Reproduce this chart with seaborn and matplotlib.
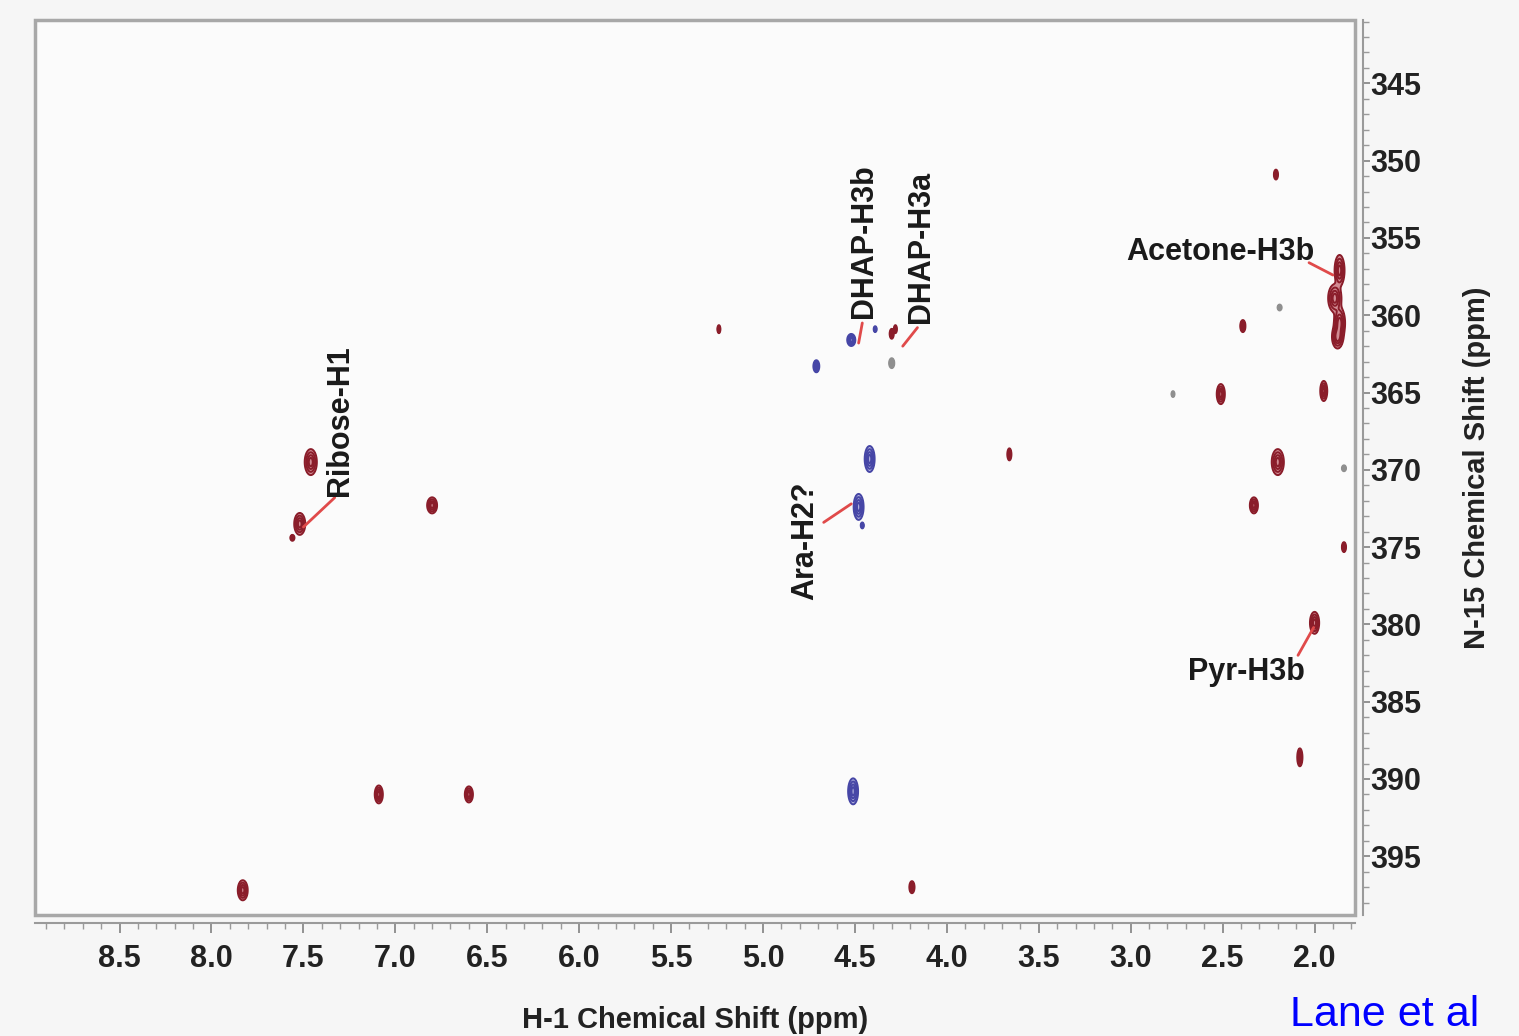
import numpy as np
import matplotlib
matplotlib.use("Agg")
import matplotlib.pyplot as plt
from matplotlib.patches import Rectangle
from matplotlib.ticker import MultipleLocator, FormatStrFormatter
import seaborn as sns

# ---- cross-peaks: 1H shift, 15N shift, half-widths (ppm) ----
pos_h = [7.83, 7.09, 6.60, 4.19, 2.08, 2.00, 1.84, 2.33, 2.20, 2.51, 1.95, 2.39,
         2.21, 1.864, 1.89, 1.864, 1.875, 3.66, 5.24, 7.46, 7.52, 7.56, 6.80,
         4.30, 4.28]
pos_n = [397.2, 391.0, 391.0, 397.0, 388.6, 379.9, 375.0, 372.3, 369.5, 365.1,
         364.9, 360.7, 350.9, 357.1, 358.9, 360.5, 361.4, 369.0, 360.9, 369.5,
         373.5, 374.4, 372.3, 361.2, 360.9]
pos_wh = [0.027, 0.022, 0.022, 0.014, 0.014, 0.025, 0.011, 0.022, 0.033, 0.022,
          0.019, 0.014, 0.011, 0.027, 0.036, 0.030, 0.030, 0.011, 0.008, 0.033,
          0.030, 0.011, 0.027, 0.011, 0.008]
pos_wn = [0.65, 0.58, 0.52, 0.39, 0.58, 0.71, 0.32, 0.52, 0.84, 0.65, 0.65, 0.39,
          0.32, 1.00, 0.90, 1.00, 0.75, 0.39, 0.26, 0.84, 0.71, 0.19, 0.52, 0.32,
          0.26]

neg_h = [4.51, 4.42, 4.48, 4.46, 4.71, 4.52, 4.39]
neg_n = [390.8, 369.3, 372.4, 373.6, 363.3, 361.6, 360.9]
neg_wh = [0.027, 0.027, 0.027, 0.008, 0.016, 0.022, 0.008]
neg_wn = [0.84, 0.84, 0.84, 0.19, 0.39, 0.39, 0.19]

weak_h = [2.19, 4.30, 1.84, 2.77]
weak_n = [359.5, 363.1, 369.9, 365.1]
weak_wh = [0.011, 0.014, 0.011, 0.008]
weak_wn = [0.19, 0.32, 0.19, 0.19]

# ---- assignments: label, label anchor (H, N), leader line start/end ----
labels = ["Ribose-H1", "DHAP-H3b", "DHAP-H3a", "Ara-H2?", "Acetone-H3b", "Pyr-H3b"]
label_h = [7.30, 4.45, 4.14, 4.77, 2.00, 2.37]
label_n = [371.7, 360.2, 360.5, 374.6, 355.9, 383.1]
label_rot = [90, 90, 90, 90, 0, 0]
label_ha = ["center", "center", "center", "center", "right", "center"]
label_va = ["bottom", "bottom", "bottom", "center", "center", "center"]
lead_h0 = [7.33, 4.46, 4.16, 4.67, 2.03, 2.09]
lead_n0 = [371.8, 360.5, 360.8, 373.4, 356.6, 382.0]
lead_h1 = [7.50, 4.48, 4.24, 4.52, 1.90, 2.005]
lead_n1 = [373.7, 361.8, 362.0, 372.2, 357.4, 380.2]

H_LIM = (8.96, 1.78)
N_LIM = (398.8, 340.9)

W, H = 1519, 1036
sns.set_theme(style="white")
plt.rcParams["font.family"] = ["Liberation Sans", "DejaVu Sans"]
plt.rcParams["font.weight"] = "bold"

fig = plt.figure(figsize=(W / 100, H / 100), dpi=100, facecolor="#f6f6f6")
ax = fig.add_axes([35 / W, 1 - 915 / H, 1320 / W, 895 / H])
ax.set_facecolor("#fbfbfb")

LEVELS = [0.12, 0.3, 0.55, 0.8]
K = np.sqrt(2 * np.log(1 / LEVELS[0]))

# shared spectrum grid (about two samples per output pixel)
gh = np.linspace(min(H_LIM), max(H_LIM), 2700)
gn = np.linspace(min(N_LIM), max(N_LIM), 1800)
dh = gh[1] - gh[0]
dn = gn[1] - gn[0]


def spectrum(hs, ns, whs, wns):
    Z = np.zeros((gn.size, gh.size))
    for h0, n0, wh, wn in zip(hs, ns, whs, wns):
        sh, sn = wh / K, wn / K
        i0 = max(int((h0 - 4 * sh - gh[0]) / dh), 0)
        i1 = min(int((h0 + 4 * sh - gh[0]) / dh) + 2, gh.size)
        j0 = max(int((n0 - 4 * sn - gn[0]) / dn), 0)
        j1 = min(int((n0 + 4 * sn - gn[0]) / dn) + 2, gn.size)
        X, Y = np.meshgrid(gh[i0:i1], gn[j0:j1])
        Z[j0:j1, i0:i1] += np.exp(-0.5 * (((X - h0) / sh) ** 2 + ((Y - n0) / sn) ** 2))
    return Z


def draw(Z, line_color, fill_color):
    ax.contourf(gh, gn, Z, levels=[LEVELS[0], 10], colors=[fill_color],
                alpha=0.6, zorder=2)
    ax.contour(gh, gn, Z, levels=LEVELS, colors=[line_color],
               linewidths=1.4, zorder=3)


draw(spectrum(pos_h, pos_n, pos_wh, pos_wn), "#8a1d2a", "#b8434f")
draw(spectrum(neg_h, neg_n, neg_wh, neg_wn), "#4646a6", "#8080cc")
draw(spectrum(weak_h, weak_n, weak_wh, weak_wn), "#8f8f8f", "#bdbdbd")

# assignment labels with red leader lines
for txt, th, tn, rot, ha, va, h0, n0, h1, n1 in zip(
        labels, label_h, label_n, label_rot, label_ha, label_va,
        lead_h0, lead_n0, lead_h1, lead_n1):
    ax.text(th, tn, txt, rotation=rot, ha=ha, va=va, fontsize=22,
            fontweight="bold", color="#1a1a1a", zorder=5)
    ax.plot([h0, h1], [n0, n1], color="#e04a4a", lw=2.0, zorder=4,
            solid_capstyle="round")

ax.set_xlim(*H_LIM)
ax.set_ylim(*N_LIM)

# frame around the spectrum area
ax.add_patch(Rectangle((0, 0), 1, 1, transform=ax.transAxes, fill=False,
                       edgecolor="#a8a8a8", lw=2.5, clip_on=False, zorder=6))

for s in ["top", "left"]:
    ax.spines[s].set_visible(False)
for s in ["bottom", "right"]:
    ax.spines[s].set_visible(True)
    ax.spines[s].set_position(("outward", 6))
    ax.spines[s].set_color("#9a9a9a")
    ax.spines[s].set_linewidth(1.5)

ax.yaxis.tick_right()
ax.yaxis.set_label_position("right")
ax.xaxis.set_major_locator(MultipleLocator(0.5))
ax.xaxis.set_minor_locator(MultipleLocator(0.1))
ax.yaxis.set_major_locator(MultipleLocator(5))
ax.yaxis.set_minor_locator(MultipleLocator(1))
ax.xaxis.set_major_formatter(FormatStrFormatter("%.1f"))
ax.tick_params(axis="both", which="major", length=7, width=1.3,
               color="#8a8a8a", labelsize=22, labelcolor="#222222")
ax.tick_params(axis="both", which="minor", length=4, width=1.0,
               color="#9a9a9a")
ax.tick_params(axis="x", which="major", pad=8)
ax.tick_params(axis="y", which="major", length=5, pad=0)
ax.tick_params(axis="x", which="both", bottom=True, top=False)
ax.tick_params(axis="y", which="both", right=True, left=False)
for lab in ax.get_xticklabels() + ax.get_yticklabels():
    lab.set_fontweight("bold")

ax.set_xlabel("H-1 Chemical Shift (ppm)", fontsize=21, fontweight="bold",
              color="#222222", labelpad=23)
ax.set_ylabel("N-15 Chemical Shift (ppm)", fontsize=21, fontweight="bold",
              color="#222222", labelpad=30)
ax.grid(False)

fig.text(1290 / W, 10 / H, "Lane et al", color="#0000ff", fontsize=31,
         fontweight="normal", ha="left", va="baseline")

fig.savefig("out.png", dpi=100, facecolor=fig.get_facecolor())
